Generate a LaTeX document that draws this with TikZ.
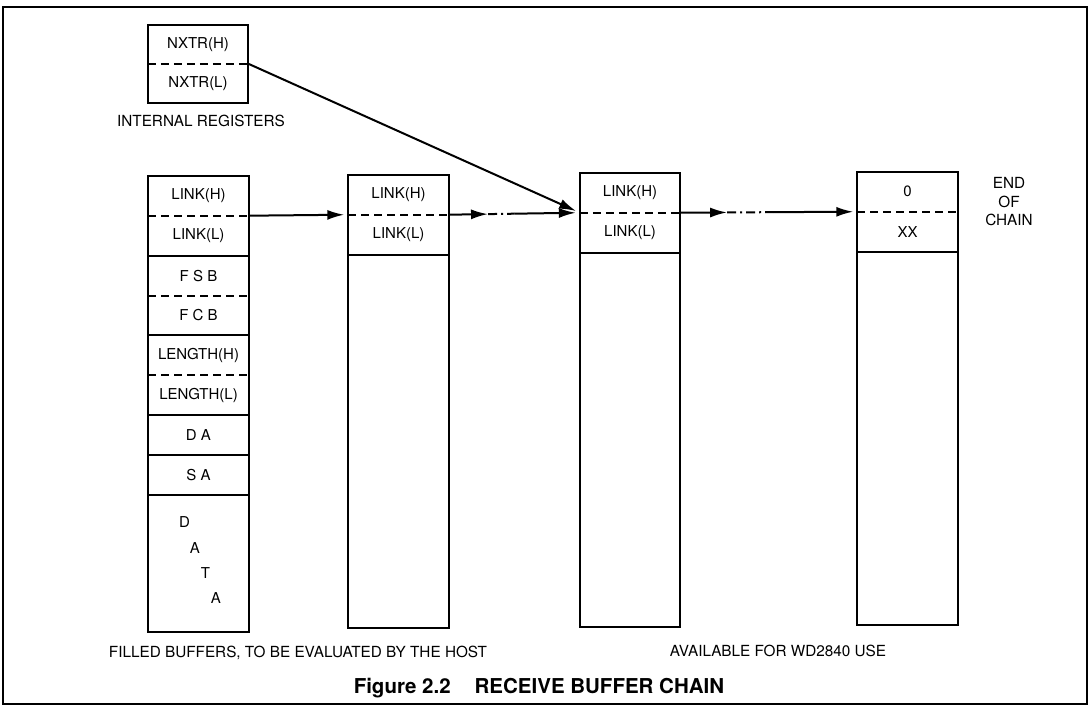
\documentclass[tikz,border=0pt]{standalone}
\usepackage{fontspec}
\setmainfont{TeX Gyre Heros}
\usetikzlibrary{positioning,arrows.meta}
\tikzset{cell/.style={minimum width=100pt, minimum height=39.5pt, inner sep=0pt,
  font=\fontsize{15}{15}\selectfont}}
\tikzset{box/.style={line width=2pt},
  sep/.style={line width=2pt, dash pattern=on 8pt off 5pt},
  link/.style={line width=2pt, ->, shorten >=4pt},
  part/.style={line width=2pt, ->},
  gap/.style={line width=2pt, dash pattern=on 9pt off 4pt on 2pt off 4pt},
  lbl/.style={font=\fontsize{15.3}{18.5}\selectfont, align=center}}

\begin{document}
\begin{tikzpicture}[x=1pt, y=-1pt, >={Latex[length=17pt,width=10pt]}]
      \useasboundingbox (0,0) rectangle (1090,706);
      \draw [line width=1.4pt] (3,7) rectangle (1087,704);

      % internal registers
      \node [cell, minimum height=38.5pt] (nxh) at (198,44.25) {NXTR(H)};
      \node [cell, minimum height=38.5pt, below=0pt of nxh] (nxl) {NXTR(L)};
      \draw [box] (nxh.north west) rectangle (nxl.south east);
      \draw [sep] (nxh.south west) -- (nxh.south east);
      \node [lbl] (regs) at (201,121) {INTERNAL REGISTERS};

      % filled buffer
      \node [cell] (c1h) at (198.5,195.75) {LINK(H)};
      \node [cell, below=0pt of c1h] (c1l) {LINK(L)};
      \node [cell, below=0pt of c1l] (c1s) {F S B};
      \node [cell, below=0pt of c1s] (c1c) {F C B};
      \node [cell, below=0pt of c1c] (c1lh) {LENGTH(H)};
      \node [cell, below=0pt of c1lh] (c1ll) {LENGTH(L)};
      \node [cell, below=0pt of c1ll] (c1da) {D A};
      \node [cell, below=0pt of c1da] (c1sa) {S A};
      \node [cell, minimum height=137pt, below=0pt of c1sa] (c1dat) {};
      \foreach \ch [count=\i] in {D,A,T,A}
        \node [cell, minimum width=0pt, minimum height=0pt] (dat\i) at (174+10.5*\i, 497+25.3*\i) {\ch};
      \draw [box] (c1h.north west) rectangle (c1dat.south east);
      \foreach \c in {c1l,c1c,c1ll,c1da,c1sa}
        \draw [box] (\c.south west) -- (\c.south east);
      \foreach \c in {c1h,c1s,c1lh}
        \draw [sep] (\c.south west) -- (\c.south east);

      % free buffers
      \node [cell] (c2h) at (398.5,194.75) {LINK(H)};
      \node [cell, below=0pt of c2h] (c2l) {LINK(L)};
      \node [cell, minimum height=372.5pt, below=0pt of c2l] (c2e) {};
      \node [cell] (c3h) at (630,192.75) {LINK(H)};
      \node [cell, below=0pt of c3h] (c3l) {LINK(L)};
      \node [cell, minimum height=374pt, below=0pt of c3l] (c3e) {};
      \node [cell] (c4h) at (907.5,191.75) {0};
      \node [cell, below=0pt of c4h] (c4l) {XX};
      \node [cell, minimum height=373pt, below=0pt of c4l] (c4e) {};
      \foreach \n in {2,3,4} {
        \draw [box] (c\n h.north west) rectangle (c\n e.south east);
        \draw [box] (c\n l.south west) -- (c\n l.south east);
        \draw [sep] (c\n h.south west) -- (c\n h.south east);
      }
      \node [lbl] (eoc) at (1009,202) {END\\OF\\CHAIN};

      % chain pointers
      \draw [link] (nxh.south east) -- (c3h.south west);
      \draw [link] (c1h.south east) -- (c2h.south west);
      \path (c2h.south east) -- (c3h.south west) coordinate [pos=0.3] (g2a) coordinate [pos=0.5] (g2b);
      \draw [part] (c2h.south east) -- (g2a);
      \draw [gap] (g2a) -- (g2b);
      \draw [link] (g2b) -- (c3h.south west);
      \path (c3h.south east) -- (c4h.south west) coordinate [pos=0.265] (g3a) coordinate [pos=0.525] (g3b);
      \draw [part] (c3h.south east) -- (g3a);
      \draw [gap] (g3a) -- (g3b);
      \draw [link] (g3b) -- (c4h.south west);

      \node [lbl] (filled) at (298,653) {FILLED BUFFERS, TO BE EVALUATED BY THE HOST};
      \node [lbl] (avail) at (778,651) {AVAILABLE FOR WD2840 USE};
      \node [font=\fontsize{20.5}{20.5}\selectfont\bfseries] (cap) at (539,688) {Figure 2.2\hspace{24pt}RECEIVE BUFFER CHAIN};
\end{tikzpicture}
\end{document}
